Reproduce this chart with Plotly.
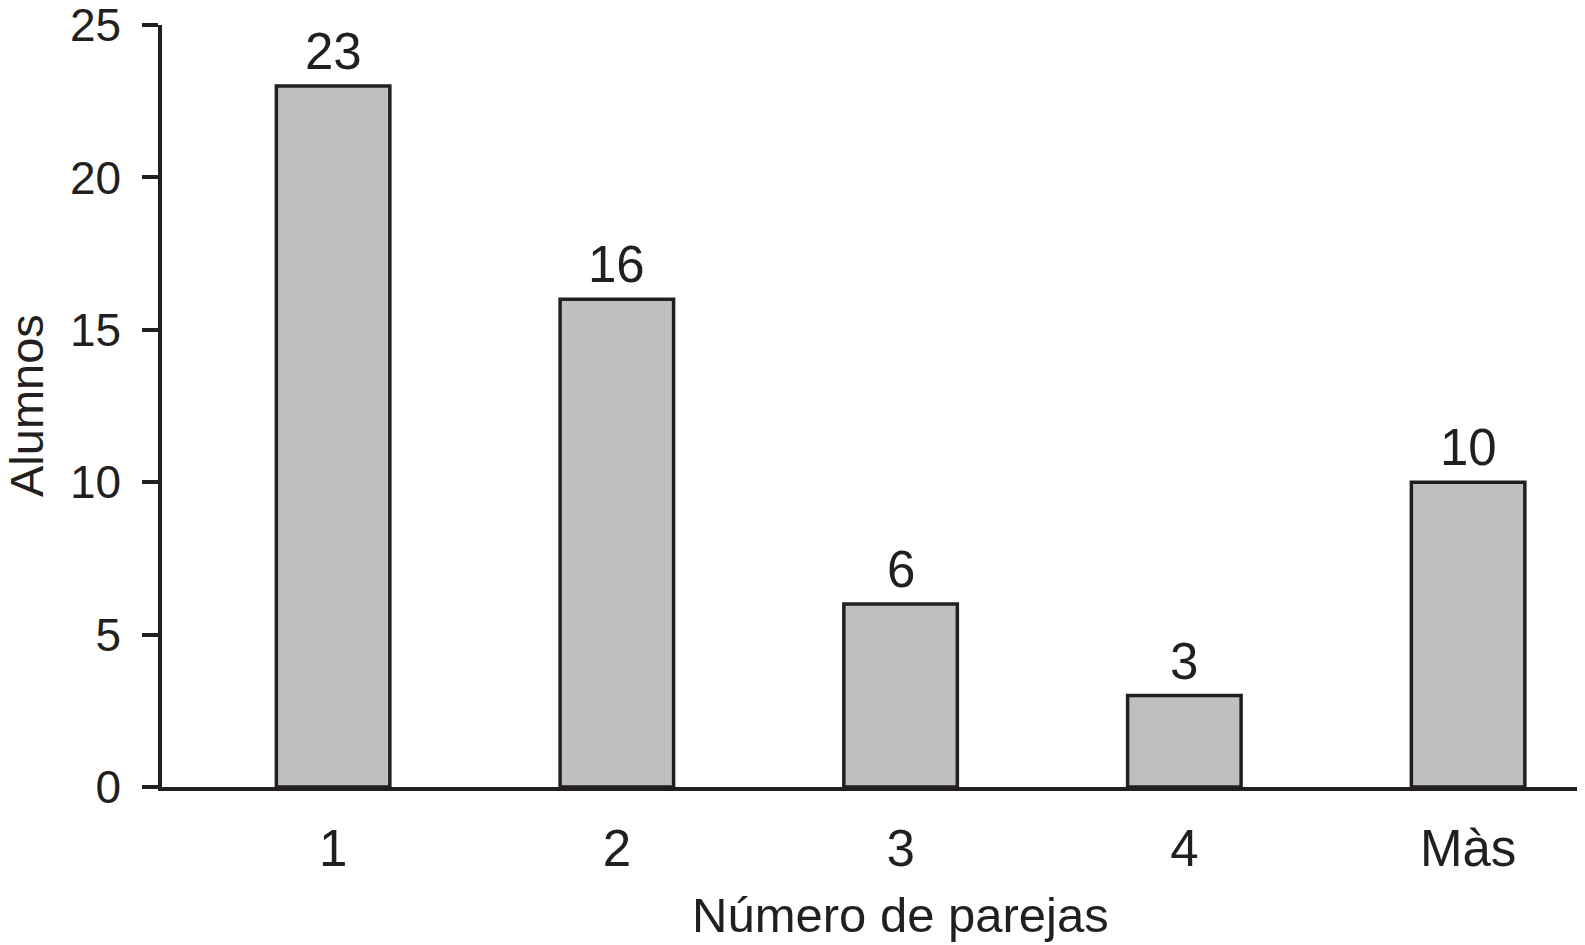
import plotly.graph_objects as go

categories = ["1", "2", "3", "4", "Màs"]
alumnos = [23, 16, 6, 3, 10]
y_ticks = [0, 5, 10, 15, 20, 25]

INK = "#231f20"
FONT = "Liberation Sans, Arial, Helvetica, sans-serif"

fig = go.Figure()
fig.add_trace(go.Bar(
    x=categories,
    y=alumnos,
    width=0.40,
    marker=dict(color="#bebfc1", line=dict(color=INK, width=3.5)),
    showlegend=False,
    hoverinfo="x+y",
))

for i, v in enumerate(alumnos):
    fig.add_annotation(
        x=i, y=v, text=str(v), showarrow=False,
        xanchor="center", yanchor="bottom", yshift=4,
        font=dict(family=FONT, size=51, color=INK),
    )

# x-axis title, centred under the middle category as in the reference
fig.add_annotation(
    x=2, xref="x", y=0, yref="paper", yshift=-99,
    text="Número de parejas", showarrow=False,
    xanchor="center", yanchor="top",
    font=dict(family=FONT, size=49, color=INK),
)

# y-axis title
fig.add_annotation(
    x=0, xref="paper", y=0.5, yref="paper", xshift=-136,
    text="Alumnos", showarrow=False, textangle=-90,
    xanchor="center", yanchor="middle",
    font=dict(family=FONT, size=47, color=INK),
)

fig.update_layout(
    width=1577, height=937,
    margin=dict(l=154, r=0, t=16.5, b=158, autoexpand=False),
    paper_bgcolor="white", plot_bgcolor="white",
    font=dict(family=FONT, color=INK),
    bargap=0.6,
)
fig.update_xaxes(
    type="category",
    range=[-0.603, 4.412],
    automargin=False,
    showline=True, linecolor=INK, linewidth=3.5,
    ticks="", showgrid=False, zeroline=False,
    tickfont=dict(family=FONT, size=51, color=INK),
    ticklabelstandoff=14,
)
fig.update_yaxes(
    range=[0, 25],
    automargin=False,
    tickvals=y_ticks,
    ticklabeloverflow="allow",
    showline=True, linecolor=INK, linewidth=3.5,
    ticks="outside", ticklen=16, tickwidth=3.5, tickcolor=INK,
    showgrid=False, zeroline=False,
    tickfont=dict(family=FONT, size=46, color=INK),
    ticklabelstandoff=12,
)

fig.write_html("out.html")
